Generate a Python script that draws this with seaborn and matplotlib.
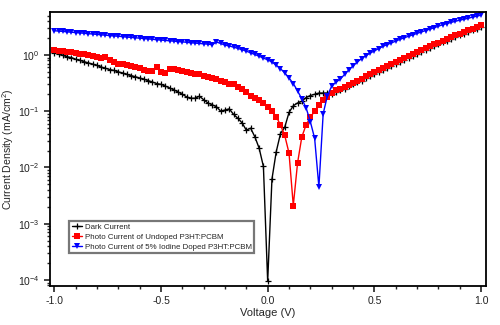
import matplotlib
matplotlib.use('Agg')
import matplotlib.pyplot as plt
import matplotlib.ticker as mticker
import pandas as pd
import seaborn as sns

# voltage grid (V)
voltage = [round(-1.0 + 0.02 * i, 2) for i in range(101)]

# dark current (mA/cm^2)
dark = [1.08, 1.05, 0.98, 0.93, 0.90, 0.84, 0.80, 0.76, 0.72, 0.69,
        0.65, 0.61, 0.58, 0.55, 0.53, 0.50, 0.48, 0.45, 0.43, 0.41,
        0.39, 0.37, 0.35, 0.33, 0.31, 0.30, 0.28, 0.26, 0.24, 0.22,
        0.20, 0.18, 0.17, 0.17, 0.185, 0.16, 0.14, 0.13, 0.12, 0.10,
        0.105, 0.11, 0.088, 0.075, 0.062, 0.046, 0.050, 0.035, 0.022, 0.0104,
        0.000094,
        0.0062, 0.019, 0.040, 0.052, 0.095, 0.125, 0.14, 0.15, 0.175, 0.19,
        0.20, 0.21, 0.21, 0.21, 0.20, 0.22, 0.235, 0.25, 0.275, 0.30,
        0.325, 0.35, 0.39, 0.42, 0.455, 0.50, 0.54, 0.585, 0.64, 0.70,
        0.75, 0.83, 0.90, 0.97, 1.05, 1.14, 1.23, 1.33, 1.44, 1.54,
        1.67, 1.79, 1.94, 2.08, 2.23, 2.39, 2.56, 2.74, 2.94, 3.15]

# photo current, undoped P3HT:PCBM
undoped = [1.23, 1.20, 1.16, 1.13, 1.11, 1.09, 1.06, 1.03, 1.00, 0.96,
           0.92, 0.90, 0.92, 0.82, 0.74, 0.70, 0.68, 0.65, 0.63, 0.61,
           0.58, 0.55, 0.51, 0.52, 0.60, 0.50, 0.47, 0.57, 0.56, 0.54,
           0.52, 0.50, 0.48, 0.46, 0.45, 0.43, 0.41, 0.39, 0.37, 0.35,
           0.33, 0.31, 0.30, 0.27, 0.25, 0.22, 0.19, 0.175, 0.16, 0.14,
           0.12,
           0.10, 0.080, 0.057, 0.037, 0.018, 0.0021, 0.012, 0.035, 0.057, 0.078,
           0.10, 0.13, 0.16, 0.18, 0.21, 0.235, 0.25, 0.27, 0.295, 0.32,
           0.35, 0.38, 0.42, 0.45, 0.49, 0.54, 0.58, 0.63, 0.69, 0.75,
           0.81, 0.89, 0.97, 1.05, 1.13, 1.23, 1.32, 1.43, 1.55, 1.66,
           1.80, 1.93, 2.09, 2.24, 2.40, 2.57, 2.75, 2.95, 3.16, 3.41]

# photo current, 5% iodine doped P3HT:PCBM
doped = [2.70, 2.66, 2.62, 2.58, 2.54, 2.50, 2.47, 2.43, 2.39, 2.36,
         2.32, 2.28, 2.25, 2.21, 2.18, 2.15, 2.12, 2.08, 2.05, 2.02,
         1.99, 1.96, 1.93, 1.90, 1.87, 1.84, 1.81, 1.79, 1.76, 1.73,
         1.71, 1.68, 1.65, 1.63, 1.60, 1.58, 1.56, 1.52, 1.70, 1.60,
         1.50, 1.44, 1.38, 1.31, 1.24, 1.17, 1.09, 1.02, 0.95, 0.88,
         0.82,
         0.75, 0.66, 0.57, 0.48, 0.39, 0.31, 0.23, 0.165, 0.115, 0.065,
         0.033, 0.0045, 0.09, 0.19, 0.28, 0.33, 0.37, 0.45, 0.54, 0.64,
         0.75, 0.86, 0.97, 1.08, 1.18, 1.30, 1.42, 1.53, 1.64, 1.76,
         1.90, 2.02, 2.15, 2.28, 2.42, 2.56, 2.72, 2.88, 3.05, 3.25,
         3.45, 3.62, 3.80, 3.98, 4.15, 4.32, 4.50, 4.70, 4.90, 5.10]

labels = ['Dark Current',
          'Photo Current of Undoped P3HT:PCBM',
          'Photo Current of 5% Iodine Doped P3HT:PCBM']

df = pd.DataFrame({'V': voltage, 'dark': dark, 'undoped': undoped, 'doped': doped})

sns.set_style('ticks')
plt.rcParams['font.family'] = ['Liberation Sans', 'DejaVu Sans']
plt.rcParams['axes.unicode_minus'] = False
plt.rcParams['mathtext.default'] = 'regular'

fig = plt.figure(figsize=(5, 3.25), dpi=100)
ax = fig.add_axes([0.10, 0.12, 0.872, 0.843])

sns.lineplot(data=df, x='V', y='dark', color='black', marker='+', markersize=5,
             markeredgecolor='black', markeredgewidth=0.9, linewidth=1.0,
             label=labels[0], ax=ax)
sns.lineplot(data=df, x='V', y='undoped', color='#ff0000', marker='s', markersize=4.6,
             markeredgecolor='#ff0000', markeredgewidth=0, linewidth=1.0,
             label=labels[1], ax=ax)
sns.lineplot(data=df, x='V', y='doped', color='#0000ff', marker='v', markersize=5,
             markeredgecolor='#0000ff', markeredgewidth=0, linewidth=1.0,
             label=labels[2], ax=ax)

ax.set_yscale('log')
ax.set_xlim(-1.02, 1.023)
ax.set_ylim(7.8e-5, 5.8)
ax.set_xticks([-1.0, -0.5, 0.0, 0.5, 1.0])
ax.xaxis.set_major_formatter(mticker.FormatStrFormatter('%.1f'))
ax.xaxis.set_minor_locator(mticker.MultipleLocator(0.1))
ax.yaxis.set_minor_locator(mticker.LogLocator(base=10, subs=range(2, 10), numticks=20))
ax.yaxis.set_minor_formatter(mticker.NullFormatter())

for s in ax.spines.values():
    s.set_linewidth(1.3)
    s.set_color('black')
ax.tick_params(which='major', direction='out', length=4, width=1.2, labelsize=7.5, colors='#222222')
ax.tick_params(which='minor', direction='out', length=2.5, width=1.0)

ax.set_xlabel('Voltage (V)', fontsize=8, labelpad=1)
ax.set_ylabel('Current Density (mA/cm$^2$)', fontsize=7.6, labelpad=1)

leg = ax.legend(loc='lower left', bbox_to_anchor=(0.035, 0.105), fontsize=5.7,
                frameon=True, fancybox=False, handlelength=1.3, borderpad=0.3,
                labelspacing=0.3, handletextpad=0.4, markerscale=0.8)
leg.get_frame().set_edgecolor('#555555')
leg.get_frame().set_linewidth(1.6)

fig.savefig('out.png', dpi=100)
